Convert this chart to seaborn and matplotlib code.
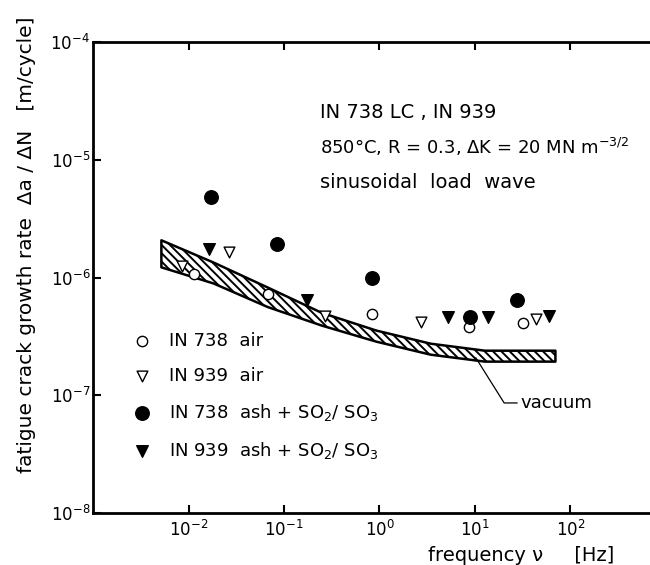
import seaborn as sns
import matplotlib.pyplot as plt
import pandas as pd

### (log-log axes)
freq_738_air = [0.0113, 0.068, 0.84, 8.6, 32]
rate_738_air = [1.08e-6, 7.2e-7, 4.9e-7, 3.8e-7, 4.1e-7]

freq_939_air = [0.0086, 0.0268, 0.268, 2.72, 43.5]
rate_939_air = [1.26e-6, 1.64e-6, 4.75e-7, 4.17e-7, 4.46e-7]

freq_738_ash = [0.0172, 0.085, 0.84, 8.85, 27.5]
rate_738_ash = [4.86e-6, 1.94e-6, 9.9e-7, 4.64e-7, 6.5e-7]

freq_939_ash = [0.0165, 0.176, 5.2, 13.7, 59]
rate_939_ash = [1.73e-6, 6.5e-7, 4.65e-7, 4.63e-7, 4.69e-7]

# vacuum scatter band
band_freq = [0.0052, 0.0183, 0.068, 0.25, 0.93, 3.44, 12.7, 69.5]
band_upper = [2.07e-6, 1.34e-6, 8.2e-7, 5.0e-7, 3.54e-7, 2.74e-7, 2.39e-7, 2.39e-7]
band_lower = [1.22e-6, 8.9e-7, 5.6e-7, 3.9e-7, 2.85e-7, 2.21e-7, 1.93e-7, 1.93e-7]

# leader line for the "vacuum" label
leader_freq = [10.2, 20.2, 27.7]
leader_rate = [2.08e-7, 8.6e-8, 8.6e-8]

x_ticks = [1e-2, 1e-1, 1e0, 1e1, 1e2]
y_ticks = [1e-8, 1e-7, 1e-6, 1e-5, 1e-4]

series = [
    ("IN 738  air", freq_738_air, rate_738_air, "o", "white", 55),
    ("IN 939  air", freq_939_air, rate_939_air, "v", "white", 60),
    ("IN 738  ash + SO$_2$/ SO$_3$", freq_738_ash, rate_738_ash, "o", "black", 95),
    ("IN 939  ash + SO$_2$/ SO$_3$", freq_939_ash, rate_939_ash, "v", "black", 70),
]

sns.set_style("ticks")
plt.rcParams["font.family"] = ["DejaVu Sans"]
plt.rcParams["hatch.linewidth"] = 1.4
plt.rcParams["mathtext.default"] = "regular"
for k in ["text.color", "axes.labelcolor", "xtick.color", "ytick.color", "axes.edgecolor"]:
    plt.rcParams[k] = "black"

fig = plt.figure(figsize=(6.5, 5.65), dpi=100)
ax = fig.add_axes([93 / 650, 1 - 513 / 565, (666 - 93) / 650, (513 - 42) / 565])

ax.fill_between(band_freq, band_lower, band_upper, facecolor="white",
                edgecolor="black", hatch="\\\\\\\\", linewidth=1.8, zorder=2)

for name, fx, fy, mk, fc, sz in series:
    df = pd.DataFrame({"freq": fx, "rate": fy})
    sns.scatterplot(data=df, x="freq", y="rate", marker=mk, color=fc,
                    edgecolor="black", linewidth=1.0, s=sz, label=name,
                    ax=ax, zorder=3)

ax.plot(leader_freq, leader_rate, color="black", lw=0.9)
ax.text(30, 8.6e-8, "vacuum", fontsize=13, va="center", ha="left")

ax.set_xscale("log")
ax.set_yscale("log")
ax.set_xlim(1e-3, 1e3)
ax.set_ylim(1e-8, 1e-4)
ax.set_xticks(x_ticks)
ax.set_yticks(y_ticks)
ax.minorticks_off()
ax.tick_params(direction="in", length=6, width=1.5, top=True, right=False,
               labelsize=12, pad=5)
ax.tick_params(axis="y", pad=2)
for sp in ax.spines.values():
    sp.set_linewidth(2)
ax.spines["right"].set_visible(False)

ax.set_xlabel("")
ax.set_ylabel("fatigue crack growth rate  Δa / ΔN   [m/cycle]", fontsize=14.5)
ax.yaxis.set_label_coords(-0.10, 0.57)
ax.text(0.747, -0.09, "frequency ν     [Hz]", transform=ax.transAxes,
        fontsize=14, ha="center", va="center")

ax.text(0.24, 2.54e-5, "IN 738 LC , IN 939", fontsize=14, va="center")
ax.text(0.24, 1.28e-5, "850°C, R = 0.3, ΔK = 20 MN m$^{-3/2}$", fontsize=13, va="center")
ax.text(0.24, 6.44e-6, "sinusoidal  load  wave", fontsize=14, va="center")

ax.legend(frameon=False, loc="upper left", bbox_to_anchor=(0.07, 0.385),
          borderaxespad=0, borderpad=0, fontsize=13, labelspacing=0.95,
          handlelength=1.0, handletextpad=1.0)

fig.savefig("out.png", dpi=100)
